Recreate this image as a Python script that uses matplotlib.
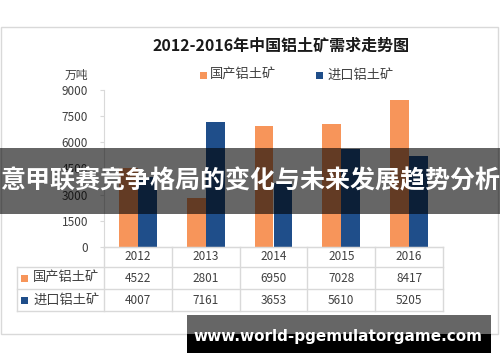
import matplotlib
matplotlib.use("Agg")
import matplotlib.pyplot as plt
from matplotlib.patches import Rectangle
from matplotlib.lines import Line2D

plt.rcParams['font.family'] = ['Noto Sans CJK SC', 'DejaVu Sans']

years = ["2012", "2013", "2014", "2015", "2016"]
domestic = [4522, 2801, 6950, 7028, 8417]
imported = [4007, 7161, 3653, 5610, 5205]
series_names = ["国产铝土矿", "进口铝土矿"]
yticks = [0, 1500, 3000, 4500, 6000, 7500, 9000]
title = "2012-2016年中国铝土矿需求走势图"
unit = "万吨"
banner = "意甲联赛竞争格局的变化与未来发展趋势分析"
url = "www.world-pgemulatorgame.com"

ORANGE = "#F7955A"
BLUE = "#1F4E8A"
GRID = "#D9D9D9"
TXT = "#404040"

W, H = 500, 362
fig = plt.figure(figsize=(W / 100, H / 100), dpi=100)

def fx(px):
    return px / W

def fy(py):
    return 1 - py / H

# chart border
fig.patches.append(Rectangle((fx(1), fy(334)), fx(497), 307 / H, transform=fig.transFigure,
                             fill=False, edgecolor=GRID, lw=1))

# axes
L, R, T, B = 104, 443, 90, 247
ax = fig.add_axes([fx(L), fy(B), (R - L) / W, (B - T) / H])
x = list(range(len(years)))
bw = 0.28
ax.bar([i - bw / 2 for i in x], domestic, width=bw, color=ORANGE, zorder=2)
ax.bar([i + bw / 2 for i in x], imported, width=bw, color=BLUE, zorder=2)
ax.set_xlim(-0.5, len(years) - 0.5)
ax.set_ylim(0, 9000)
ax.set_yticks(yticks)
ax.set_yticklabels([str(v) for v in yticks], fontsize=8.5, color=TXT)
ax.set_xticks([])
for s in ["top", "right"]:
    ax.spines[s].set_visible(False)
ax.spines["left"].set_color(GRID)
ax.spines["bottom"].set_color(GRID)
ax.tick_params(axis="y", length=3, color=GRID, pad=8.5)
ax.patch.set_alpha(0)

# title, unit, legend
fig.text(fx(281), fy(46), title, ha="center", va="center", fontsize=11.5, fontweight="bold", color="#1a1a1a")
fig.text(fx(76), fy(75), unit, ha="center", va="center", fontsize=8.5, color=TXT)
leg = [(203, ORANGE, 210, series_names[0]), (319, BLUE, 327, series_names[1])]
for sx, c, tx, name in leg:
    fig.patches.append(Rectangle((fx(sx - 3.5), fy(78.5)), 7 / W, 7 / H, transform=fig.transFigure,
                                 color=c, lw=0))
    fig.text(fx(tx), fy(75), name, ha="left", va="center", fontsize=9.5, color=TXT)

# data table
cols = [L + i * (R - L) / len(years) for i in range(len(years) + 1)]
rows = [247, 267, 289, 311]
tl = 17

def hline(y, x0, x1):
    fig.lines.append(Line2D([fx(x0), fx(x1)], [fy(y), fy(y)], transform=fig.transFigure, color=GRID, lw=1))

def vline(xp, y0, y1):
    fig.lines.append(Line2D([fx(xp), fx(xp)], [fy(y0), fy(y1)], transform=fig.transFigure, color=GRID, lw=1))

hline(rows[0], L, R)
for r in rows[1:]:
    hline(r, tl, R)
for c in cols:
    vline(c, rows[0], rows[3])
vline(tl, rows[1], rows[3])

for i, yr in enumerate(years):
    cx = (cols[i] + cols[i + 1]) / 2
    fig.text(fx(cx), fy((rows[0] + rows[1]) / 2), yr, ha="center", va="center", fontsize=8.5, color=TXT)
    fig.text(fx(cx), fy((rows[1] + rows[2]) / 2), str(domestic[i]), ha="center", va="center", fontsize=8.5, color=TXT)
    fig.text(fx(cx), fy((rows[2] + rows[3]) / 2), str(imported[i]), ha="center", va="center", fontsize=8.5, color=TXT)

for k, (c, name) in enumerate([(ORANGE, series_names[0]), (BLUE, series_names[1])]):
    cy = (rows[k + 1] + rows[k + 2]) / 2
    fig.patches.append(Rectangle((fx(21), fy(cy + 3.5)), 7 / W, 7 / H, transform=fig.transFigure, color=c, lw=0))
    fig.text(fx(33), fy(cy), name, ha="left", va="center", fontsize=9.5, color=TXT)

# banner overlay
fig.patches.append(Rectangle((0, fy(214)), 1, 66 / H, transform=fig.transFigure,
                             color="black", alpha=0.6, lw=0, zorder=10))
fig.text(0.5, fy(181), banner, ha="center", va="center", fontsize=18, fontweight="bold",
         color="white", zorder=11)

# url box
fig.patches.append(Rectangle((fx(187), fy(334)), 304 / W, 19 / H, transform=fig.transFigure,
                             color="#666666", lw=0, zorder=10))
fig.patches.append(Rectangle((fx(187), fy(353)), 304 / W, 19 / H, transform=fig.transFigure,
                             color="black", lw=0, zorder=10))
fig.text(fx(338), fy(337), url, ha="center", va="center", fontsize=11, fontweight="bold",
         color="white", family="DejaVu Sans", zorder=11)

fig.savefig("out.png", dpi=100)
